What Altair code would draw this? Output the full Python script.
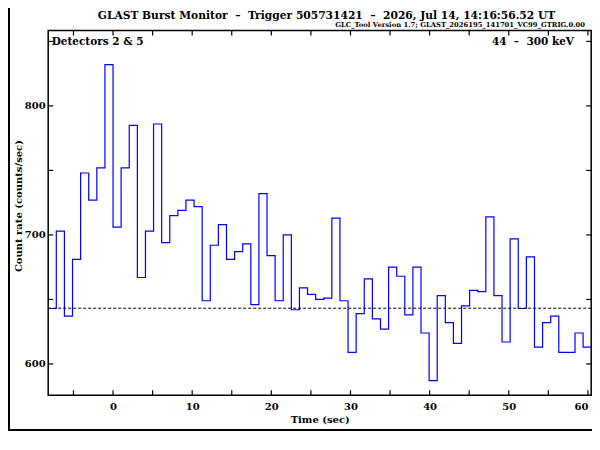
import altair as alt
import pandas as pd

# ---- data ----
bin_width = 1.024
t_first = -8.192
rates = [643, 703, 637, 681, 748, 727, 752, 832, 706, 752, 785, 667, 703, 786,
         694, 715, 719, 727, 722, 649, 692, 708, 681, 687, 693, 646, 732, 684,
         649, 700, 642, 659, 654, 650, 651, 713, 649, 609, 639, 666, 635, 627,
         675, 668, 638, 675, 624, 587, 653, 632, 616, 645, 657, 656, 714, 653,
         617, 697, 643, 683, 613, 632, 637, 609, 609, 624, 613]
background_level = [643.2]
x_label_ticks = [0, 10, 20, 30, 40, 50, 60]
x_all_ticks = [-5, 0, 5, 10, 15, 20, 25, 30, 35, 40, 45, 50, 55, 60]
y_label_ticks = [600, 700, 800]
y_all_ticks = [600, 650, 700, 750, 800, 850]

title_text = ("GLAST Burst Monitor\u00a0\u00a0\u2013\u00a0\u00a0Trigger 505731421"
              "\u00a0\u00a0\u2013\u00a0\u00a02026, Jul 14, 14:16:56.52 UT")
subtitle_text = "GLC_Tool Version 1.7; GLAST_2026195_141701_VC99_GTRIG.0.00"
detectors_text = "Detectors 2 & 5"
energy_text = "44\u00a0\u00a0\u2013\u00a0\u00a0300 keV"

edges = [round(t_first + bin_width * i, 3) for i in range(len(rates) + 1)]
lc = pd.DataFrame({"t": edges, "rate": rates + [rates[-1]]})

W, H = 543, 364.7
FONT = "DejaVu Serif"

xs = alt.Scale(domain=[-8.192, 60.416], nice=False, zero=False)
ys = alt.Scale(domain=[575.7, 858.4], nice=False, zero=False)

line = alt.Chart(lc).mark_line(interpolate="step-after", color="#0000ff",
                               strokeWidth=1.2).encode(
    x=alt.X("t:Q", scale=xs,
            axis=alt.Axis(values=x_label_ticks, title="Time (sec)", tickSize=0,
                          labelPadding=6.5, domain=False, grid=False,
                          labelAlign=alt.ExprRef(
                              expr="datum.value >= 60 ? 'right' : 'center'"),
                          titleY=24.7, titleBaseline="middle", titleX=W / 2)),
    y=alt.Y("rate:Q", scale=ys,
            axis=alt.Axis(values=y_label_ticks, title="Count rate (counts/sec)",
                          tickSize=0, labelPadding=3, domain=False, grid=False,
                          titleX=-29.7, titleY=175, titleBaseline="middle",
                          titleAngle=-90)),
)

bg = alt.Chart(pd.DataFrame({"b": background_level})).mark_rule(
    color="black", strokeWidth=1, strokeDash=[3, 2]).encode(
    y=alt.Y("b:Q", scale=ys))

xt = pd.DataFrame({"v": x_all_ticks})
yt = pd.DataFrame({"v": y_all_ticks})
tick_style = dict(color="black", strokeWidth=1.2)
tb = alt.Chart(xt).mark_rule(**tick_style).encode(
    x=alt.X("v:Q", scale=xs), y=alt.value(H), y2=alt.value(H - 5))
tt = alt.Chart(xt).mark_rule(**tick_style).encode(
    x=alt.X("v:Q", scale=xs), y=alt.value(0), y2=alt.value(5))
tl = alt.Chart(yt).mark_rule(**tick_style).encode(
    y=alt.Y("v:Q", scale=ys), x=alt.value(0), x2=alt.value(5))
tr = alt.Chart(yt).mark_rule(**tick_style).encode(
    y=alt.Y("v:Q", scale=ys), x=alt.value(W - 5), x2=alt.value(W))

one = pd.DataFrame({"k": [0]})
frame_style = dict(color="black", strokeWidth=2)
f_left = alt.Chart(one).mark_rule(**frame_style).encode(
    x=alt.value(-39.2), y=alt.value(-22.6), y2=alt.value(399.4))
f_bottom = alt.Chart(one).mark_rule(**frame_style).encode(
    x=alt.value(-40.2), x2=alt.value(W + 0.8), y=alt.value(399.4))


def label(txt, x, y, size, align, font=FONT):
    return alt.Chart(pd.DataFrame({"s": [txt]})).mark_text(
        font=font, fontWeight="bold", fontSize=size, align=align,
        baseline="alphabetic", color="black").encode(
        text="s:N", x=alt.value(x), y=alt.value(y))


title = label(title_text, 278.3, -11.8, 10.7, "center")
subtitle = label(subtitle_text, 536.8, -3.4, 6.8, "right")
det = label(detectors_text, 3.5, 14.1, 10.5, "left")
en = label(energy_text, 525.8, 14.1, 10.5, "right")

chart = alt.layer(
    line, bg, tb, tt, tl, tr, f_left, f_bottom, title, subtitle, det, en
).properties(
    width=W, height=H,
    padding={"left": 40.2, "top": 22.6, "right": 0.8, "bottom": 36},
    autosize=alt.AutoSizeParams(type="none"),
).configure_view(
    stroke="black", strokeWidth=1.5
).configure_axis(
    labelFont=FONT, labelFontWeight="bold", labelFontSize=10, labelColor="black",
    titleFont=FONT, titleFontWeight="bold", titleFontSize=10, titleColor="black",
)

chart.save("out.html", embed_options={"renderer": "svg", "actions": False})
